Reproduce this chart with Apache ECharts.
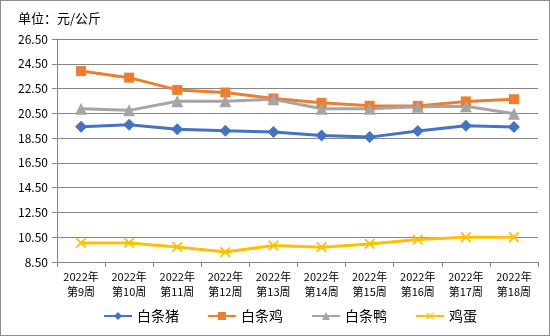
<!DOCTYPE html>
<html><head><meta charset="utf-8">
<script src="https://cdn.jsdelivr.net/npm/echarts@6/dist/echarts.min.js"></script>
<style>html,body{margin:0;padding:0;background:#fff}#c{width:550px;height:336px;box-sizing:border-box;border:1px solid #8c8c8c}</style>
</head><body><div id="c"></div>
<script>
const categories = ['2022年\n第9周','2022年\n第10周','2022年\n第11周','2022年\n第12周','2022年\n第13周','2022年\n第14周','2022年\n第15周','2022年\n第16周','2022年\n第17周','2022年\n第18周'];
const pig = [19.42, 19.58, 19.22, 19.10, 19.00, 18.71, 18.58, 19.07, 19.50, 19.40];
const chicken = [23.91, 23.38, 22.39, 22.18, 21.70, 21.35, 21.11, 21.10, 21.46, 21.64];
const duck = [20.87, 20.74, 21.48, 21.48, 21.64, 20.87, 20.87, 21.03, 21.08, 20.47];
const egg = [10.04, 10.04, 9.72, 9.30, 9.83, 9.70, 9.96, 10.31, 10.50, 10.50];
const seriesNames = ['白条猪','白条鸡','白条鸭','鸡蛋'];
const colors = ['#4472C4','#ED7D31','#A5A5A5','#FFC000'];
const symbols = ['diamond','rect','triangle','image://data:image/svg+xml;utf8,' + encodeURIComponent('<svg xmlns="http://www.w3.org/2000/svg" width="10" height="10"><path d="M1 1L9 9M9 1L1 9" stroke="#FFC000" stroke-width="1.5"/></svg>')];
const symbolSizes = [12, 10, 12, 12];
const font = '"Noto Sans CJK SC", sans-serif';
const chart = echarts.init(document.getElementById('c'));
const data = [pig, chicken, duck, egg];
chart.setOption({
  animation: false,
  color: colors,
  textStyle: {fontFamily: font},
  title: {text: '单位：元/公斤', left: 12, top: 6, textStyle: {fontFamily: font, fontSize: 13, fontWeight: 'normal', color: '#000'}},
  grid: {left: 56, right: 11, top: 38, bottom: 73},
  legend: {top: 303, left: 97, itemWidth: 28, itemHeight: 10, itemGap: 28,
    textStyle: {fontFamily: font, fontSize: 14, color: '#000'}, data: seriesNames},
  xAxis: {type: 'category', data: categories, boundaryGap: true,
    axisLine: {lineStyle: {color: '#868686'}},
    axisTick: {show: true, lineStyle: {color: '#868686'}, length: 5},
    axisLabel: {fontFamily: font, fontSize: 11, color: '#000', interval: 0, lineHeight: 15, margin: 7}},
  yAxis: {type: 'value', min: 8.5, max: 26.5, interval: 2,
    axisLine: {show: true, lineStyle: {color: '#868686'}},
    axisTick: {show: true, lineStyle: {color: '#868686'}, length: 5},
    splitLine: {lineStyle: {color: '#868686'}},
    axisLabel: {fontFamily: font, fontSize: 12, color: '#000', margin: 9, formatter: v => v.toFixed(2)}},
  series: data.map((d, i) => ({
    name: seriesNames[i], type: 'line', data: d,
    symbol: symbols[i], symbolSize: symbolSizes[i], showAllSymbol: true,
    lineStyle: {width: 3, color: colors[i]},
    itemStyle: {color: colors[i]}
  }))
});
</script></body></html>
